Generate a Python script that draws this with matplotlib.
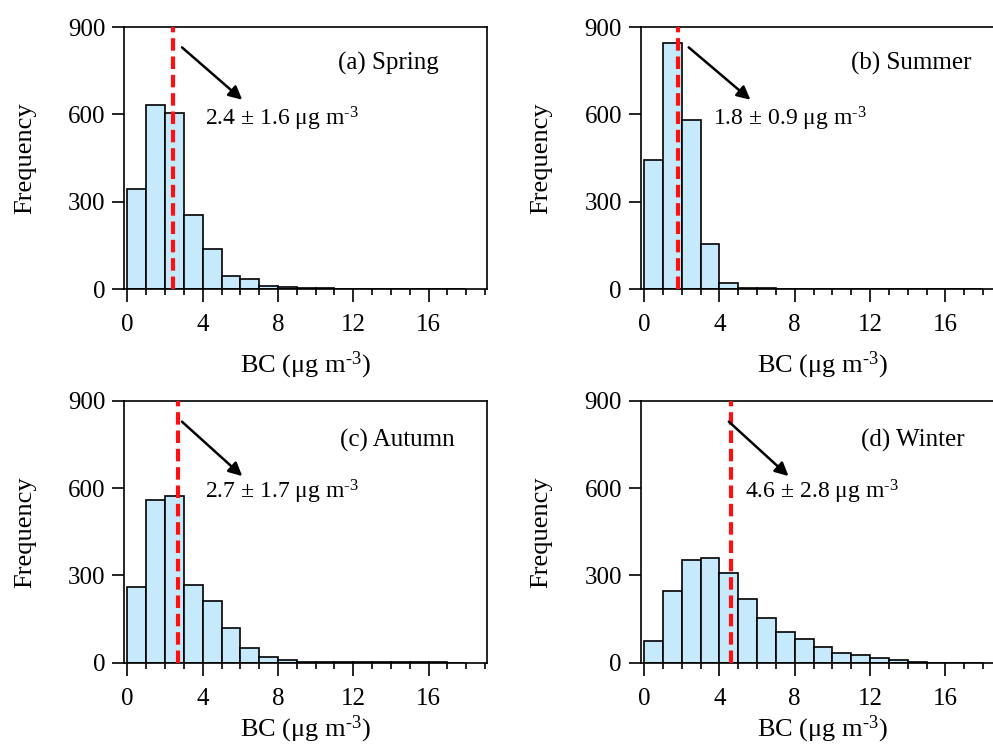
import matplotlib
matplotlib.use("Agg")
import matplotlib.pyplot as plt
from matplotlib.ticker import MultipleLocator
import numpy as np

plt.rcParams['font.family'] = ['Liberation Serif', 'DejaVu Serif']
plt.rcParams['mathtext.fontset'] = 'custom'
plt.rcParams['mathtext.rm'] = 'Liberation Serif'
plt.rcParams['mathtext.it'] = 'Liberation Serif:italic'

bin_edges = list(range(0, 19))
spring = [345, 631, 603, 254, 136, 45, 33, 11, 8, 3, 2, 1, 1, 0, 0, 0, 0, 0]
summer = [443, 845, 580, 153, 22, 3, 2, 0, 0, 0, 0, 0, 0, 0, 0, 0, 0, 0]
autumn = [260, 558, 573, 268, 213, 118, 52, 21, 9, 2, 1, 1, 1, 1, 1, 1, 1, 0]
winter = [74, 246, 352, 361, 308, 218, 154, 106, 80, 55, 33, 25, 17, 8, 4, 0, 0, 0]

means = [2.4, 1.8, 2.7, 4.6]
stds = [1.6, 0.9, 1.7, 2.8]
titles = ["(a) Spring", "(b) Summer", "(c) Autumn", "(d) Winter"]
series = [spring, summer, autumn, winter]

W, H = 993, 749
fig = plt.figure(figsize=(W / 100, H / 100), dpi=100)

positions = [
    [124 / W, 1 - 289 / H, 363 / W, 262 / H],
    [640.7 / W, 1 - 289 / H, 363 / W, 262 / H],
    [124 / W, 1 - 662.7 / H, 363 / W, 262 / H],
    [640.7 / W, 1 - 662.7 / H, 363 / W, 262 / H],
]
arrow_start = [(2.9, 830), (2.37, 830), (2.9, 828), (4.5, 828)]
arrow_end = [(6.1, 650), (5.65, 650), (6.1, 641), (7.67, 641)]
text_pos = [(4.1, 585), (3.65, 585), (4.1, 587), (5.35, 587)]
label_x = [11.2, 11.0, 11.3, 11.5]
label_y = [776, 776, 765, 765]
xlabel_pad = [10, 10, 3, 3]

sup = r"$^{\text{-3}}$"

edges = np.array(bin_edges)
for i, pos in enumerate(positions):
    ax = fig.add_axes(pos)
    vals = np.array(series[i])
    ax.bar(edges[:-1], vals, width=1.0, align='edge', color='#C6E9FB',
           edgecolor='black', linewidth=1.2, zorder=2)
    ax.plot([means[i], means[i]], [0, 900], color='#FF1010', lw=3,
            dashes=(3, 1.4), zorder=3)
    ax.annotate('', xy=arrow_end[i], xytext=arrow_start[i],
                arrowprops=dict(arrowstyle='-|>', color='black', lw=1.8,
                                mutation_scale=20, shrinkA=0, shrinkB=0),
                zorder=4)
    ax.text(text_pos[i][0], text_pos[i][1],
            f"{means[i]} ± {stds[i]} μg m" + sup,
            fontsize=17, ha='left', va='center')
    ax.text(label_x[i], label_y[i], titles[i], fontsize=18, ha='left',
            va='center')
    ax.set_xlim(-0.18, 19.1)
    ax.set_ylim(0, 900)
    ax.set_yticks([0, 300, 600, 900])
    ax.xaxis.set_major_locator(MultipleLocator(4))
    ax.xaxis.set_minor_locator(MultipleLocator(1))
    ax.tick_params(axis='y', which='major', direction='out', length=8.5,
                   width=1.2, labelsize=18, pad=5)
    ax.tick_params(axis='x', which='major', direction='out', length=9,
                   width=1.2, labelsize=18, pad=9)
    ax.tick_params(axis='x', which='minor', direction='out', length=4.5,
                   width=1.2)
    for s in ax.spines.values():
        s.set_linewidth(1.2)
    ax.set_ylabel('Frequency', fontsize=19, labelpad=23)
    ax.set_xlabel('BC (μg m' + sup + ')', fontsize=19, labelpad=xlabel_pad[i])

fig.savefig('out.png', dpi=100)
